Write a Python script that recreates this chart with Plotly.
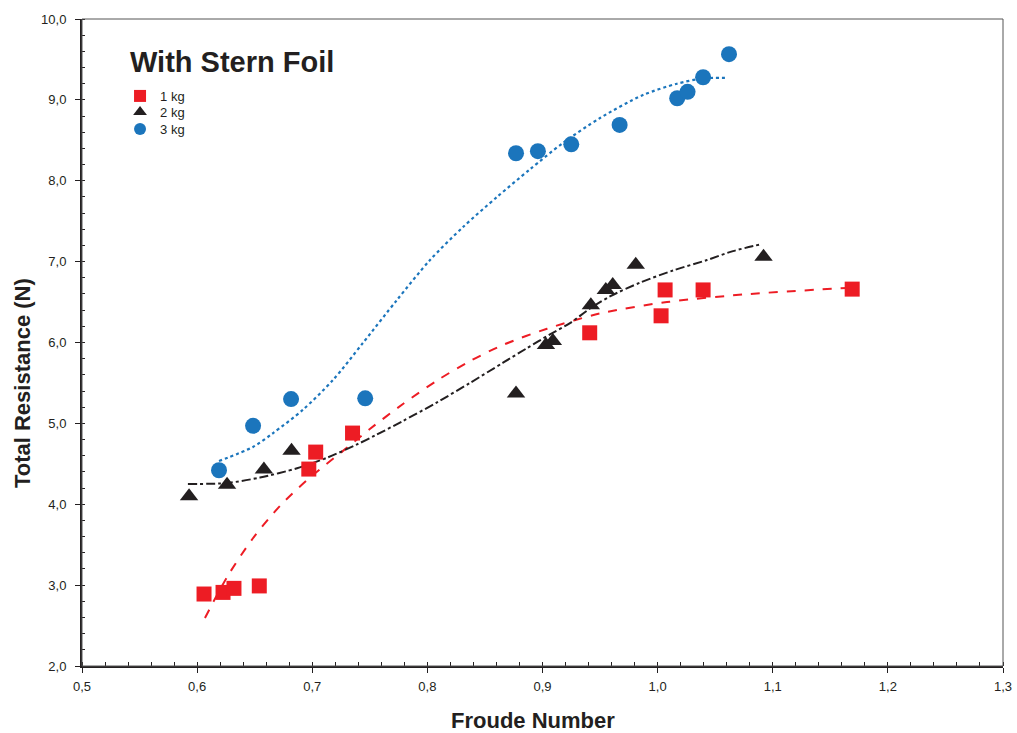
import plotly.graph_objects as go

# --- measured data ---
fr_1kg = [0.606, 0.6225, 0.632, 0.654, 0.697, 0.703, 0.735, 0.941, 1.003, 1.0065, 1.0395, 1.169]
rt_1kg = [2.89, 2.91, 2.96, 2.99, 4.435, 4.645, 4.88, 6.12, 6.33, 6.65, 6.65, 6.66]

fr_2kg = [0.593, 0.626, 0.658, 0.682, 0.877, 0.903, 0.909, 0.942, 0.955, 0.961, 0.981, 1.092]
rt_2kg = [4.10, 4.24, 4.43, 4.66, 5.37, 5.97, 6.02, 6.46, 6.65, 6.71, 6.96, 7.06]

fr_3kg = [0.619, 0.6486, 0.6816, 0.746, 0.877, 0.896, 0.925, 0.967, 1.017, 1.026, 1.0395, 1.062]
rt_3kg = [4.42, 4.97, 5.30, 5.31, 8.34, 8.366, 8.45, 8.69, 9.02, 9.10, 9.28, 9.565]

# --- trend lines ---
tr_fr_1kg = [0.6068, 0.626, 0.6485, 0.672, 0.698, 0.7267, 0.750, 0.7788, 0.8084, 0.837, 0.8657, 0.9039, 0.950, 1.0081, 1.080, 1.1645]
tr_rt_1kg = [2.594, 3.100, 3.580, 3.980, 4.330, 4.660, 4.930, 5.240, 5.530, 5.770, 5.970, 6.170, 6.360, 6.500, 6.600, 6.674]

tr_fr_2kg = [0.592, 0.626, 0.6546, 0.6868, 0.7128, 0.7389, 0.7545, 0.7788, 0.8084, 0.837, 0.8657, 0.8865, 0.9065, 0.9239, 0.9413, 0.9586, 0.9847, 1.0133, 1.0429, 1.0655, 1.0907]
tr_rt_2kg = [4.250, 4.263, 4.330, 4.445, 4.575, 4.740, 4.850, 5.030, 5.260, 5.500, 5.750, 5.930, 6.100, 6.240, 6.420, 6.570, 6.740, 6.890, 7.020, 7.130, 7.218]

tr_fr_3kg = [0.619, 0.6485, 0.666, 0.692, 0.718, 0.744, 0.7736, 0.8023, 0.831, 0.8605, 0.889, 0.918, 0.950, 0.9873, 1.0168, 1.0394, 1.0611]
tr_rt_3kg = [4.535, 4.708, 4.880, 5.170, 5.536, 5.994, 6.526, 7.020, 7.428, 7.800, 8.140, 8.470, 8.776, 9.060, 9.200, 9.265, 9.271]

RED = "#ED1C24"
BLACK = "#231F20"
BLUE = "#1B75BC"
FONT = "Liberation Sans, Arial, sans-serif"

fig = go.Figure()

fig.add_trace(go.Scatter(x=tr_fr_1kg, y=tr_rt_1kg, mode="lines",
                         line=dict(color=RED, width=2, dash="dash", shape="spline", smoothing=0.8),
                         showlegend=False, hoverinfo="skip"))
fig.add_trace(go.Scatter(x=tr_fr_2kg, y=tr_rt_2kg, mode="lines",
                         line=dict(color=BLACK, width=2, dash="dashdot", shape="spline", smoothing=0.8),
                         showlegend=False, hoverinfo="skip"))
fig.add_trace(go.Scatter(x=tr_fr_3kg, y=tr_rt_3kg, mode="lines",
                         line=dict(color=BLUE, width=2.2, dash="dot", shape="spline", smoothing=0.8),
                         showlegend=False, hoverinfo="skip"))

fig.add_trace(go.Scatter(x=fr_1kg, y=rt_1kg, mode="markers", name="1 kg", legend="legend",
                         marker=dict(symbol="square", size=15, color=RED)))
fig.add_trace(go.Scatter(x=fr_2kg, y=rt_2kg, mode="markers", name="2 kg", legend="legend2",
                         marker=dict(symbol="triangle-up", size=16, color=BLACK)))
fig.add_trace(go.Scatter(x=fr_3kg, y=rt_3kg, mode="markers", name="3 kg", legend="legend3",
                         marker=dict(symbol="circle", size=16, color=BLUE)))

leg_common = dict(x=0.0413, xanchor="left", yanchor="top", bgcolor="rgba(0,0,0,0)",
                  font=dict(size=13, family=FONT, color=BLACK), itemsizing="constant")

fig.update_layout(
    width=1017, height=733,
    margin=dict(l=82, r=14, t=19, b=67, autoexpand=False),
    paper_bgcolor="white", plot_bgcolor="white",
    separators=",.",
    font=dict(family=FONT, color=BLACK, size=13),
    showlegend=True,
    legend=dict(y=0.9042, **leg_common),
    legend2=dict(y=0.8794, **leg_common),
    legend3=dict(y=0.8532, **leg_common),
    annotations=[
        dict(text="<b>With Stern Foil</b>", x=0.05, y=0.9335, xref="paper", yref="paper",
             xanchor="left", yanchor="middle", showarrow=False,
             font=dict(size=29, family=FONT, color=BLACK)),
        dict(text="<b>Froude Number</b>", x=0.4897, y=-0.0835, xref="paper", yref="paper",
             xanchor="center", yanchor="middle", showarrow=False,
             font=dict(size=22, family=FONT, color=BLACK)),
        dict(text="<b>Total Resistance (N)</b>", x=-0.0651, y=0.4374, xref="paper", yref="paper",
             xanchor="center", yanchor="middle", showarrow=False, textangle=-90,
             font=dict(size=22, family=FONT, color=BLACK)),
    ],
    shapes=[dict(type="rect", xref="paper", yref="paper", x0=0, y0=0, x1=1, y1=1,
                 line=dict(color="#555555", width=1), layer="above")],
)

fig.update_xaxes(
    range=[0.5, 1.3], dtick=0.1, tick0=0.5, tickformat=".1f",
    showgrid=False, zeroline=False, automargin=False,
    showline=True, linecolor=BLACK, linewidth=2,
    ticks="outside", ticklen=5, tickcolor=BLACK, tickwidth=1, ticklabelstandoff=2,
    minor=dict(dtick=0.02, ticks="inside", ticklen=4, tickcolor=BLACK),
    tickfont=dict(size=13, family=FONT, color=BLACK),
)
fig.update_yaxes(
    range=[2.0, 10.0], dtick=1.0, tick0=2.0, tickformat=".1f",
    showgrid=False, zeroline=False, automargin=False,
    showline=True, linecolor=BLACK, linewidth=2,
    ticks="outside", ticklen=5, tickcolor=BLACK, tickwidth=1, ticklabelstandoff=6,
    minor=dict(dtick=0.2, ticks="inside", ticklen=3, tickcolor=BLACK),
    tickfont=dict(size=13, family=FONT, color=BLACK),
)

fig.write_html("out.html")
